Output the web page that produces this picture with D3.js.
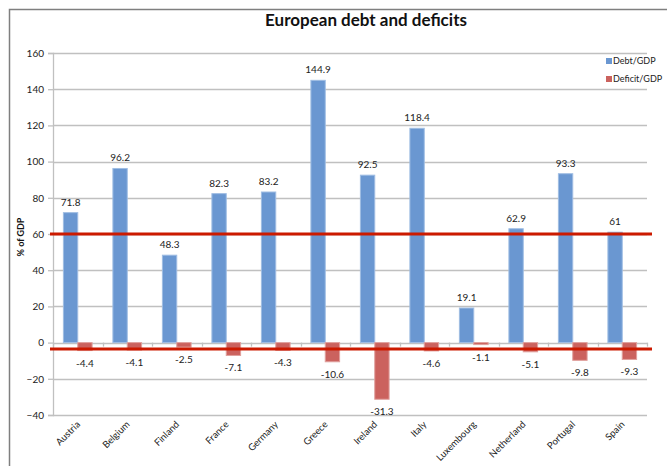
<!DOCTYPE html>
<html>
<head>
<meta charset="utf-8">
<script src="https://cdn.jsdelivr.net/npm/d3@7"></script>
<style>
  body { margin: 0; background: #fff; }
  svg { display: block; }
</style>
</head>
<body>
<div id="chart"></div>
<script>
// data
var countries = ['Austria', 'Belgium', 'Finland', 'France', 'Germany', 'Greece',
                 'Ireland', 'Italy', 'Luxembourg', 'Netherland', 'Portugal', 'Spain'];
var debt = [71.8, 96.2, 48.3, 82.3, 83.2, 144.9, 92.5, 118.4, 19.1, 62.9, 93.3, 61];
var deficit = [-4.4, -4.1, -2.5, -7.1, -4.3, -10.6, -31.3, -4.6, -1.1, -5.1, -9.8, -9.3];
var yTicks = [-40, -20, 0, 20, 40, 60, 80, 100, 120, 140, 160];
var limits = [60, -3.5];
var seriesNames = ['Debt/GDP', 'Deficit/GDP'];

var width = 667;
var height = 466;
var margin = {top: 53, right: 20, bottom: 51, left: 53};
var plotRight = 647;

var font = 'Lato, "Open Sans", sans-serif';
var blue = '#6a97d1';
var red = '#cb625e';
var limitColor = '#cc1a00';

var svg = d3.select('#chart')
    .append('svg')
    .attr('width', width)
    .attr('height', height);

// outer frame (only top and left edges are inside the picture)
svg.append('rect')
    .attr('x', 9.5)
    .attr('y', 9.5)
    .attr('width', width)
    .attr('height', height)
    .style('fill', '#fff')
    .style('stroke', '#7f7f7f')
    .style('stroke-width', 1.5);

var x = d3.scaleBand()
    .domain(countries)
    .range([margin.left, plotRight]);

var y = d3.scaleLinear()
    .domain([-40, 160])
    .range([415, margin.top]);

var inner = x.bandwidth() * 0.21;

// grid
svg.append('g')
    .selectAll('line')
    .data(yTicks)
    .enter().append('line')
    .attr('x1', margin.left)
    .attr('x2', plotRight)
    .attr('y1', function(d){ return Math.round(y(d)) + 0.5; })
    .attr('y2', function(d){ return Math.round(y(d)) + 0.5; })
    .style('stroke', '#c0c0c0')
    .style('stroke-width', 1.3);

// y axis
var yAxis = d3.axisLeft(y)
    .tickValues(yTicks)
    .tickSize(5)
    .tickPadding(4);

var gy = svg.append('g')
    .attr('transform', 'translate(' + margin.left + ',0)')
    .call(yAxis);
gy.select('.domain').style('stroke', '#c0c0c0').style('stroke-width', 1.3);
gy.selectAll('.tick line').style('stroke', '#c0c0c0').style('stroke-width', 1.3);
gy.selectAll('.tick text')
    .style('font-family', font)
    .style('font-size', '10px')
    .style('fill', '#222');

// category ticks along the zero line
svg.append('g')
    .selectAll('line')
    .data(countries.concat(['end']))
    .enter().append('line')
    .attr('x1', function(d, i){ return Math.round(margin.left + i * x.step()) + 0.5; })
    .attr('x2', function(d, i){ return Math.round(margin.left + i * x.step()) + 0.5; })
    .attr('y1', y(0))
    .attr('y2', y(0) + 4)
    .style('stroke', '#c0c0c0')
    .style('stroke-width', 1.3);

// bars
svg.append('g')
    .selectAll('rect')
    .data(debt)
    .enter().append('rect')
    .attr('x', function(d, i){ return x(countries[i]) + inner; })
    .attr('y', function(d){ return y(d); })
    .attr('width', x.bandwidth() / 2 - inner)
    .attr('height', function(d){ return y(0) - y(d); })
    .style('fill', blue)
    .style('stroke', '#9fbde3')
    .style('stroke-width', 1);

svg.append('g')
    .selectAll('rect')
    .data(deficit)
    .enter().append('rect')
    .attr('x', function(d, i){ return x(countries[i]) + x.bandwidth() / 2; })
    .attr('y', y(0))
    .attr('width', x.bandwidth() / 2 - inner)
    .attr('height', function(d){ return y(d) - y(0); })
    .style('fill', red)
    .style('stroke', '#e0a09d')
    .style('stroke-width', 1);

// value labels
svg.append('g')
    .selectAll('text')
    .data(debt)
    .enter().append('text')
    .attr('x', function(d, i){ return x(countries[i]) + x.bandwidth() / 4 + inner / 2; })
    .attr('y', function(d){ return y(d) - 7; })
    .attr('text-anchor', 'middle')
    .text(function(d){ return d; })
    .style('font-family', font)
    .style('font-size', '10px')
    .style('fill', '#222');

svg.append('g')
    .selectAll('text')
    .data(deficit)
    .enter().append('text')
    .attr('x', function(d, i){ return x(countries[i]) + x.bandwidth() * 3 / 4 - inner / 2; })
    .attr('y', function(d){ return y(d) + 16; })
    .attr('text-anchor', 'middle')
    .text(function(d){ return d; })
    .style('font-family', font)
    .style('font-size', '10px')
    .style('fill', '#222');

// limit lines
svg.append('g')
    .selectAll('line')
    .data(limits)
    .enter().append('line')
    .attr('x1', 50)
    .attr('x2', 652)
    .attr('y1', function(d){ return y(d); })
    .attr('y2', function(d){ return y(d); })
    .style('stroke', limitColor)
    .style('stroke-width', 3);

// category labels
svg.append('g')
    .selectAll('text')
    .data(countries)
    .enter().append('text')
    .attr('transform', function(d){
        return 'translate(' + (x(d) + x.bandwidth() / 2 + 3) + ',' + 425 + ') rotate(-45)';
    })
    .attr('text-anchor', 'end')
    .text(function(d){ return d; })
    .style('font-family', font)
    .style('font-size', '9.5px')
    .style('fill', '#222');

// title
svg.append('text')
    .attr('x', 366)
    .attr('y', 26)
    .attr('text-anchor', 'middle')
    .text('European debt and deficits')
    .style('font-family', font)
    .style('font-weight', 'bold')
    .style('font-size', '17px')
    .style('fill', '#111');

// y axis title
svg.append('text')
    .attr('transform', 'translate(24,237) rotate(-90)')
    .attr('text-anchor', 'middle')
    .text('% of GDP')
    .style('font-family', font)
    .style('font-weight', 'bold')
    .style('font-size', '9px')
    .style('fill', '#111');

// legend
var legend = svg.append('g')
    .selectAll('g')
    .data(seriesNames)
    .enter().append('g')
    .attr('transform', function(d, i){ return 'translate(606,' + (58 + i * 18) + ')'; });
legend.append('rect')
    .attr('width', 6)
    .attr('height', 6)
    .style('fill', function(d, i){ return i === 0 ? blue : red; });
legend.append('text')
    .attr('x', 7)
    .attr('y', 6)
    .text(function(d){ return d; })
    .style('font-family', font)
    .style('font-size', '9px')
    .style('fill', '#222');
</script>
</body>
</html>
